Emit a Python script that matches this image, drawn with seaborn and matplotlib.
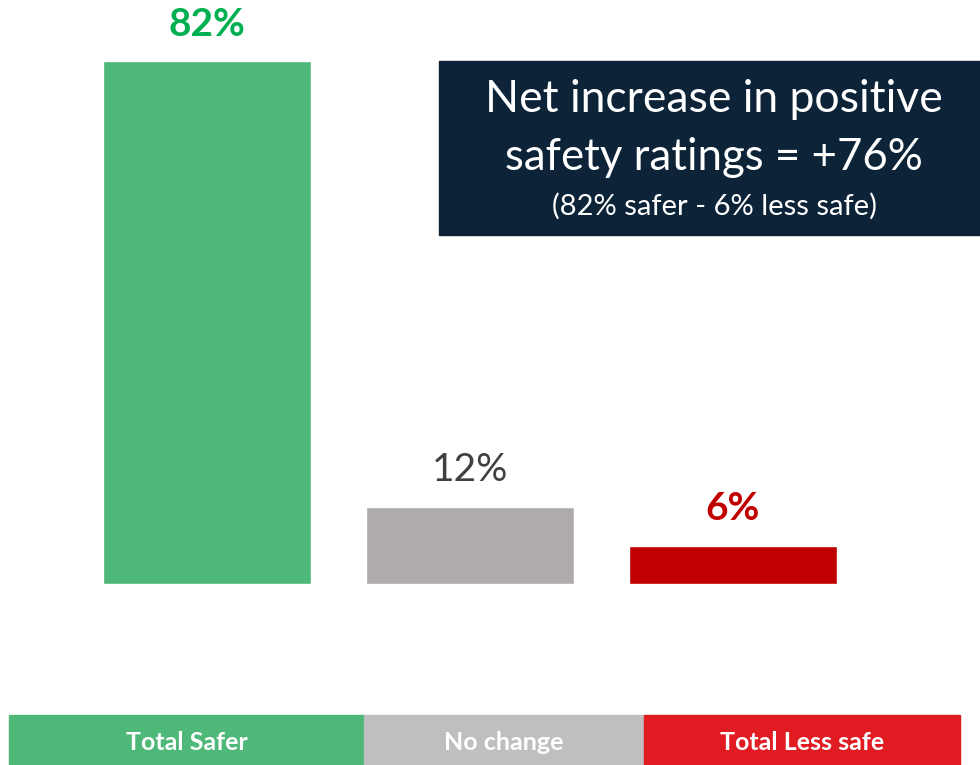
import matplotlib
matplotlib.use("Agg")
import matplotlib.pyplot as plt
import seaborn as sns
import pandas as pd
from matplotlib.patches import Rectangle

# data
categories = ["Total Safer", "No change", "Total Less safe"]
values = [82, 12, 6]
bar_colors = ["#4DB878", "#AFABAB", "#C00000"]
label_colors = ["#00B050", "#404040", "#C00000"]
label_weights = ["bold", "normal", "bold"]
strip_colors = ["#4DB878", "#BFBFBF", "#E01B22"]
box_lines = ["Net increase in positive", "safety ratings = +76%", "(82% safer - 6% less safe)"]

W, H = 980, 765
sns.set_style("white")
plt.rcParams["font.family"] = ["Lato", "DejaVu Sans"]

fig = plt.figure(figsize=(W / 100, H / 100), dpi=100)

# bar area: baseline at y=584px, bar centres 207/470/733px
px_per_unit = 263
px_per_pct = (584 - 61) / 82
ax = fig.add_axes([0, (H - 584) / H, 1, 584 / H])
df = pd.DataFrame({"cat": categories, "val": values})
sns.barplot(data=df, x="cat", y="val", hue="cat", palette=bar_colors,
            order=categories, width=208 / px_per_unit, legend=False, ax=ax,
            saturation=1)
ax.set_xlim(-207 / px_per_unit, (W - 207) / px_per_unit)
ax.set_ylim(0, 584 / px_per_pct)
ax.axis("off")

for i, v in enumerate(values):
    ax.annotate(f"{v}%", (i, v), xytext=(0, 37), textcoords="offset pixels",
                ha="center", va="center", fontsize=28,
                color=label_colors[i], fontweight=label_weights[i])

# callout box
fig.patches.append(Rectangle((439 / W, 1 - 235 / H), (W - 439) / W, 174 / H,
                             transform=fig.transFigure, color="#0D2438", zorder=0))
fig.text(714 / W, 1 - 100 / H, box_lines[0], ha="center", va="center",
         color="white", fontsize=32)
fig.text(714 / W, 1 - 157 / H, box_lines[1], ha="center", va="center",
         color="white", fontsize=31.5)
fig.text(714 / W, 1 - 206 / H, box_lines[2], ha="center", va="center",
         color="white", fontsize=21)

# bottom category strip
edges = [9, 364, 644, 960]
for i, name in enumerate(categories):
    x0, x1 = edges[i], edges[i + 1]
    fig.patches.append(Rectangle((x0 / W, 0), (x1 - x0) / W, 50 / H,
                                 transform=fig.transFigure, color=strip_colors[i]))
    fig.text((x0 + x1) / 2 / W, 23 / H, name, ha="center", va="center",
             color="white", fontsize=18, fontweight="bold")

fig.savefig("out.png", dpi=100)
